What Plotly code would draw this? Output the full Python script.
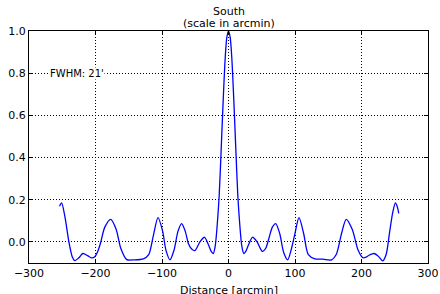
import plotly.graph_objects as go

distance = [-254, -251, -246, -240, -235, -231, -225, -219, -212, -206, -201, -196, -192,
            -186, -177, -169, -162, -153, -142, -128, -120, -113, -106, -99, -94, -88,
            -82, -76, -70.5, -65, -60, -55, -50.5, -43, -36, -30, -26, -23,
            -20, -17, -14, -11, -8, -5, -2.5, 0, 2.5, 5, 8, 11, 14, 17, 20,
            23, 26, 30, 36, 43, 51, 56, 61, 66, 71, 77, 83, 89, 94, 100, 106,
            113, 120, 130, 142, 155, 162, 170, 177, 186, 195, 202, 207, 212, 219,
            226, 232, 237, 242, 247, 251, 254, 256]
response = [0.169, 0.185, 0.12, 0.0, -0.07, -0.089, -0.075, -0.055, -0.065, -0.076, -0.07, -0.04, 0.0,
            0.07, 0.107, 0.06, -0.03, -0.084, -0.085, -0.08, -0.06, 0.03, 0.115, 0.05, -0.04, -0.085,
            -0.04, 0.05, 0.087, 0.05, -0.01, -0.035, -0.041, 0.0, 0.022, -0.015, -0.045, -0.055,
            -0.02, 0.08, 0.22, 0.44, 0.67, 0.87, 0.97, 1.0, 0.97, 0.87, 0.67, 0.44, 0.22, 0.08, -0.02,
            -0.055, -0.045, -0.015, 0.022, 0.0, -0.045, -0.03, 0.02, 0.07, 0.087, 0.04, -0.05, -0.085, -0.04, 0.04, 0.115,
            0.04, -0.06, -0.08, -0.082, -0.085, -0.06, 0.04, 0.107, 0.06, -0.04, -0.075, -0.072, -0.062, -0.055,
            -0.07, -0.09, -0.06, 0.04, 0.14, 0.185, 0.165, 0.135]

x_ticks = [-300, -200, -100, 0, 100, 200, 300]
x_labels = ["\u2212300", "\u2212200", "\u2212100", "0", "100", "200", "300"]
y_ticks = [0.0, 0.2, 0.4, 0.6, 0.8, 1.0]
y_labels = ["0.0", "0.2", "0.4", "0.6", "0.8", "1.0"]

fig = go.Figure()
fig.add_trace(go.Scatter(x=distance, y=response, mode="lines",
                         line=dict(color="#0000ff", width=1.3, shape="spline", smoothing=0.8),
                         hoverinfo="skip", showlegend=False))

fig.add_annotation(x=-270, y=0.8, text="FWHM: 21'", showarrow=False, xanchor="left",
                   yanchor="middle", font=dict(size=10, color="black"), bgcolor="white", borderpad=0)

fig.add_annotation(x=0.5, y=1, xref="paper", yref="paper", text="(scale in arcmin)",
                   showarrow=False, xanchor="center", yanchor="bottom", yshift=1, height=12,
                   borderpad=0, font=dict(size=11, color="black"))
fig.add_annotation(x=0.5, y=1, xref="paper", yref="paper", text="South",
                   showarrow=False, xanchor="center", yanchor="bottom", yshift=13, height=12,
                   borderpad=0, font=dict(size=11, color="black"))
fig.add_annotation(x=0.5, y=0, xref="paper", yref="paper", text="Distance [arcmin]",
                   showarrow=False, xanchor="center", yanchor="top", yshift=-20, height=12,
                   borderpad=0, font=dict(size=11, color="black"))

axis_common = dict(showline=True, linecolor="black", linewidth=1, mirror="ticks",
                   ticks="inside", ticklen=4, tickcolor="black", showgrid=True,
                   gridcolor="black", gridwidth=1, griddash="1px,2px", zeroline=False,
                   automargin=False, tickfont=dict(size=11, color="black"))

fig.update_xaxes(range=[-300, 300], tickvals=x_ticks, ticktext=x_labels, **axis_common)
fig.update_yaxes(range=[-0.1, 1.0], tickvals=y_ticks, ticktext=y_labels, **axis_common)

fig.update_layout(
    width=440, height=294,
    margin=dict(l=29, r=12, t=31, b=31),
    paper_bgcolor="white", plot_bgcolor="white",
    font=dict(family="DejaVu Sans", size=11, color="black"),
)

fig.write_html("out.html", config={"displayModeBar": False},
               post_script="document.body.style.margin='0';")
